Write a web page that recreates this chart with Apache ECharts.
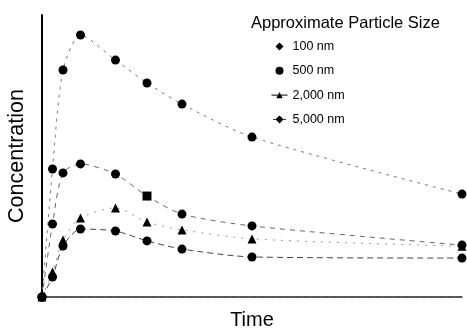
<!DOCTYPE html>
<html>
<head>
<meta charset="utf-8">
<script src="https://cdn.jsdelivr.net/npm/echarts@6/dist/echarts.min.js"></script>
<style>
html,body{margin:0;padding:0;background:#fff;}
#chart{width:467px;height:330px;}
</style>
</head>
<body>
<div id="chart"></div>
<script>
// Time points (arbitrary units)
var times = [0, 0.3, 0.6, 1.1, 2.1, 3, 4, 6, 12];
// Concentration (arbitrary units, 0-100)
var conc100 = [0, 45.4, 80.5, 92.9, 84.0, 75.9, 68.4, 56.7, 36.5];
var conc500 = [0, 25.9, 44.0, 47.2, 43.6, 35.8, 29.4, 25.2, 18.4];
var conc2000 = [0, 8.9, 20.2, 28.0, 31.6, 26.6, 23.8, 20.6, 18.0];
var conc5000 = [0, 7.1, 18.1, 24.1, 23.4, 19.9, 17.0, 14.2, 13.8];
var seriesNames = ['100 nm', '500 nm', '2,000 nm', '5,000 nm'];

function pairs(vals) {
  return times.map(function (t, i) { return [t, vals[i]]; });
}

var FONT = 'Liberation Sans';
var chart = echarts.init(document.getElementById('chart'), null, {renderer: 'canvas'});

function mk(name, vals, symbol, size, dash, lineColor) {
  return {
    name: name,
    type: 'line',
    data: pairs(vals),
    smooth: 0.25,
    symbol: symbol,
    symbolSize: size,
    itemStyle: {color: '#000'},
    lineStyle: {color: lineColor, width: 1, type: dash},
    z: 3
  };
}

chart.setOption({
  animation: false,
  backgroundColor: '#fff',
  title: {
    text: 'Approximate Particle Size',
    left: 246, top: 10,
    textStyle: {fontFamily: FONT, fontSize: 16.5, fontWeight: 'normal', color: '#000'}
  },
  legend: {
    orient: 'vertical',
    left: 271, top: 40,
    padding: 0,
    itemGap: 11.3,
    itemWidth: 16,
    itemHeight: 8,
    symbolKeepAspect: true,
    textStyle: {fontFamily: FONT, fontSize: 12.5, color: '#000'},
    data: [
      {name: seriesNames[0], icon: 'path://M5,0 L10,5 L5,10 L0,5 Z'},
      {name: seriesNames[1], icon: 'circle'},
      {name: seriesNames[2], lineStyle: {color: '#000', type: 'solid', width: 1}},
      {name: seriesNames[3], icon: 'path://M0,5 L4,5 L9,0 L14,5 L18,5 L18,6 L14,6 L9,11 L4,6 L0,6 Z'}
    ]
  },
  grid: {left: 42, right: 5, top: 15, bottom: 33, outerBoundsMode: 'none', containLabel: false},
  xAxis: {
    type: 'value', min: 0, max: 12,
    name: 'Time', nameLocation: 'middle', nameGap: 13,
    nameTextStyle: {fontFamily: FONT, fontSize: 20, color: '#000'},
    axisLine: {show: true, lineStyle: {color: '#222', width: 1.5, type: [8, 1]}},
    axisTick: {show: false}, axisLabel: {show: false}, splitLine: {show: false}
  },
  yAxis: {
    type: 'value', min: 0, max: 100,
    name: 'Concentration', nameLocation: 'middle', nameGap: 14,
    nameTextStyle: {fontFamily: FONT, fontSize: 21.5, color: '#000'},
    axisLine: {show: true, lineStyle: {color: '#000', width: 2}},
    axisTick: {show: false}, axisLabel: {show: false}, splitLine: {show: false}
  },
  series: [
    mk(seriesNames[0], conc100, 'circle', 9, [3, 5], '#777'),
    mk(seriesNames[1], conc500, function (v, p) { return p.dataIndex === 5 ? 'rect' : 'circle'; }, 9, [5, 5], '#666'),
    mk(seriesNames[2], conc2000, 'triangle', 9, [2, 6], '#999'),
    mk(seriesNames[3], conc5000, 'circle', 9, [6, 4], '#444')
  ]
});
</script>
</body>
</html>
